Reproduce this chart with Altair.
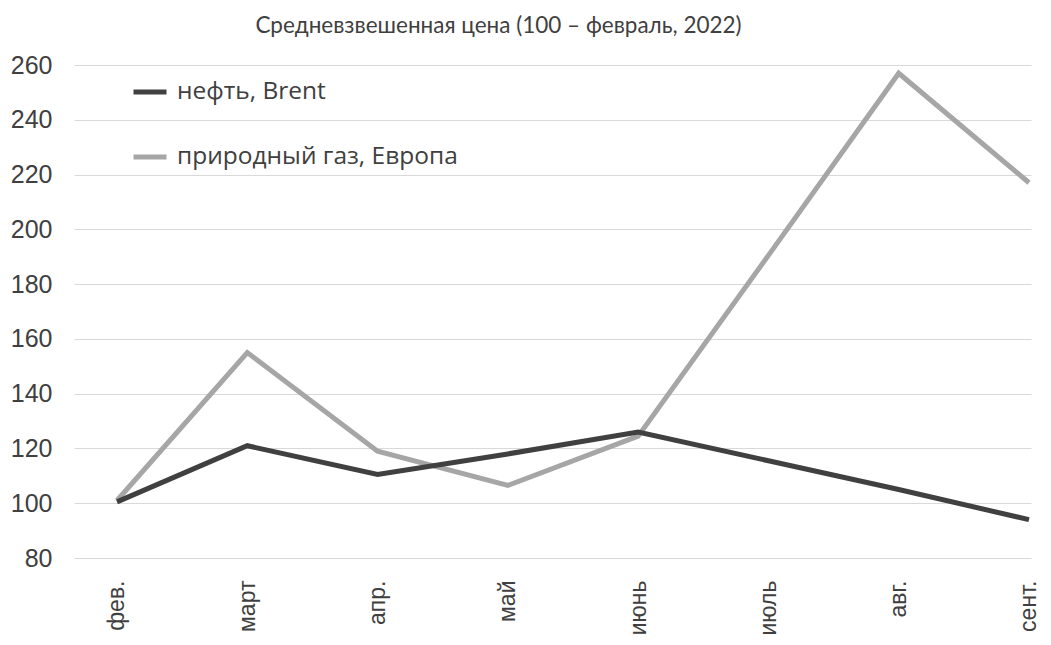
import altair as alt
import pandas as pd

months = ["фев.", "март", "апр.", "май", "июнь", "июль", "авг.", "сент."]
brent = [100.5, 121, 110.5, 118, 126, 115.5, 105, 94]
gas = [101, 155, 119, 106.5, 124.5, 190.5, 257, 217]
series_names = ["нефть, Brent", "природный газ, Европа"]
y_ticks = [80, 100, 120, 140, 160, 180, 200, 220, 240, 260]
title_text = "Средневзвешенная цена (100 – февраль, 2022)"

rows = []
for i, m in enumerate(months):
    rows.append({"idx": i, "month": m, "series": series_names[1], "order": 0, "value": gas[i]})
for i, m in enumerate(months):
    rows.append({"idx": i, "month": m, "series": series_names[0], "order": 1, "value": brent[i]})
df = pd.DataFrame(rows)

label_expr = "[" + ",".join("'" + m + "'" for m in months) + "][datum.value]"

chart = alt.Chart(df).mark_line(strokeWidth=5).encode(
    x=alt.X("idx:Q",
            scale=alt.Scale(domain=[-0.330, 7.0154], nice=False, zero=False),
            axis=alt.Axis(values=list(range(len(months))), labelExpr=label_expr,
                          labelAngle=270, grid=False, ticks=False, domain=False,
                          labelPadding=22, labelFont="Liberation Sans",
                          labelFontSize=23, labelColor="#404040", title=None)),
    y=alt.Y("value:Q",
            scale=alt.Scale(domain=[80, 260], nice=False, zero=False),
            axis=alt.Axis(values=y_ticks, grid=True, gridColor="#d9d9d9",
                          gridWidth=1.2, ticks=False, domain=False,
                          labelPadding=22, labelFont="Liberation Sans",
                          labelFontSize=25, labelColor="#404040", title=None)),
    color=alt.Color("series:N",
                    scale=alt.Scale(domain=series_names, range=["#404040", "#a6a6a6"]),
                    legend=alt.Legend(orient="none", legendX=57, legendY=8,
                                      direction="vertical", title=None,
                                      symbolType="stroke", symbolStrokeWidth=5,
                                      symbolSize=1089, labelFont="Open Sans",
                                      labelFontSize=24.5, labelColor="#404040",
                                      labelOffset=8, rowPadding=34, padding=0,
                                      labelLimit=500)),
    detail="order:O",
).properties(
    width=957,
    height=493,
    autosize=alt.AutoSizeParams(type="none"),
    padding={"left": 66, "top": 57, "right": 12, "bottom": 79},
    title=alt.Title(title_text, font="Lato", fontSize=22.5, fontWeight="normal",
                    color="#404040", anchor="middle", dx=-54, offset=16,
                    frame="group"),
).configure_view(stroke=None)

chart.save("out.html", embed_options={"renderer": "svg", "actions": False})
